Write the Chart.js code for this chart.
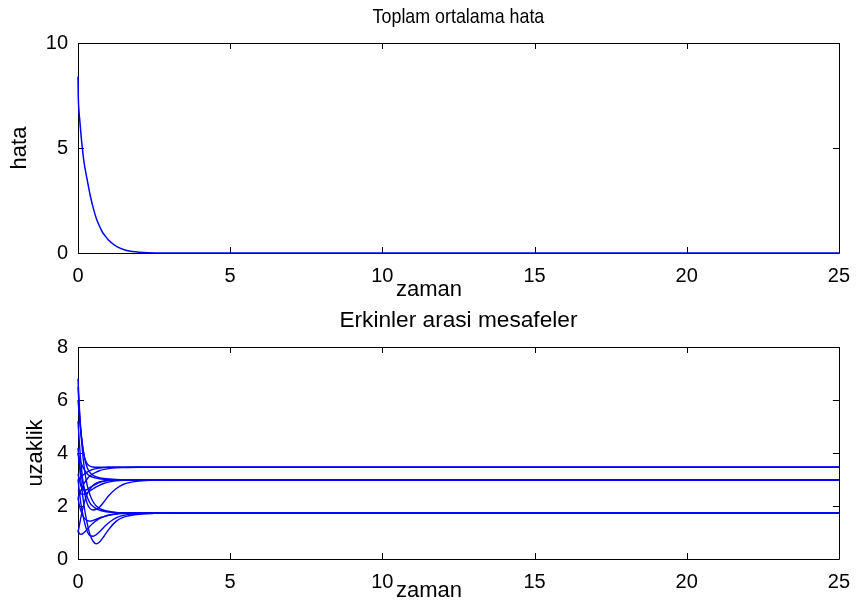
<!DOCTYPE html>
<html>
<head>
<meta charset="utf-8">
<script src="https://cdn.jsdelivr.net/npm/chart.js@4/dist/chart.umd.min.js"></script>
<style>
  body { margin: 0; background: #fff; }
  .pane { position: absolute; left: 0; width: 861px; height: 300px; }
</style>
</head>
<body>
<div class="pane" style="top:0"><canvas id="hata-chart" width="861" height="300"></canvas></div>
<div class="pane" style="top:300px"><canvas id="uzaklik-chart" width="861" height="300"></canvas></div>
<script>
// Toplam ortalama hata (total mean error) vs time
var hataTime = [0, 0.01, 0.03, 0.06, 0.1, 0.15, 0.2, 0.3, 0.4, 0.5, 0.6, 0.7, 0.8, 0.9, 1.0, 1.2, 1.4, 1.6, 1.8, 2.0, 2.3, 2.6, 3.0, 25];
var hataValues = [8.4, 7.4, 6.8, 6.3, 5.6, 4.9, 4.3, 3.5, 2.75, 2.15, 1.65, 1.3, 1.0, 0.8, 0.62, 0.38, 0.22, 0.12, 0.07, 0.04, 0.015, 0.005, 0, 0];

// Erkinler arasi mesafeler (inter-agent distances), all sampled at the same times
var mesafeTime = [0, 0.05, 0.1, 0.2, 0.3, 0.4, 0.5, 0.6, 0.7, 0.85, 1.0, 1.25, 1.5, 2.0, 2.5, 3.5, 6, 25];
var mesafeValues = [
  // settle at the short distance
  [6.8, 5.6, 4.7, 3.5, 2.8, 2.4, 2.15, 2.0, 1.92, 1.84, 1.8, 1.76, 1.75, 1.74, 1.735, 1.73, 1.73, 1.73],
  [4.2, 3.5, 2.9, 2.0, 1.35, 0.9, 0.66, 0.57, 0.63, 0.85, 1.1, 1.42, 1.58, 1.69, 1.72, 1.73, 1.73, 1.73],
  [1.1, 0.95, 0.93, 1.0, 1.12, 1.25, 1.36, 1.45, 1.52, 1.6, 1.65, 1.7, 1.72, 1.73, 1.73, 1.73, 1.73, 1.73],
  [3.0, 2.5, 2.05, 1.45, 1.05, 0.88, 0.86, 0.92, 1.02, 1.2, 1.36, 1.55, 1.65, 1.71, 1.725, 1.73, 1.73, 1.73],
  [4.0, 3.6, 3.25, 2.7, 2.35, 2.1, 1.98, 1.9, 1.85, 1.8, 1.77, 1.75, 1.74, 1.735, 1.73, 1.73, 1.73, 1.73],
  [2.3, 2.0, 1.8, 1.55, 1.45, 1.43, 1.46, 1.5, 1.55, 1.6, 1.65, 1.7, 1.72, 1.73, 1.73, 1.73, 1.73, 1.73],
  // settle at the middle distance
  [6.0, 5.3, 4.7, 3.9, 3.45, 3.25, 3.15, 3.1, 3.07, 3.04, 3.02, 3.0, 2.99, 2.99, 2.99, 2.99, 2.99, 2.99],
  [5.2, 4.3, 3.6, 2.6, 2.1, 1.9, 1.85, 1.87, 1.95, 2.15, 2.38, 2.65, 2.82, 2.94, 2.98, 2.99, 2.99, 2.99],
  [4.0, 3.8, 3.62, 3.38, 3.22, 3.13, 3.08, 3.05, 3.03, 3.01, 3.0, 2.99, 2.99, 2.99, 2.99, 2.99, 2.99, 2.99],
  [1.0, 1.3, 1.6, 2.1, 2.45, 2.65, 2.78, 2.86, 2.91, 2.95, 2.97, 2.98, 2.99, 2.99, 2.99, 2.99, 2.99, 2.99],
  [3.2, 2.95, 2.75, 2.6, 2.62, 2.7, 2.77, 2.83, 2.88, 2.93, 2.96, 2.98, 2.99, 2.99, 2.99, 2.99, 2.99, 2.99],
  [2.6, 2.5, 2.45, 2.45, 2.5, 2.58, 2.65, 2.72, 2.78, 2.85, 2.9, 2.95, 2.97, 2.98, 2.99, 2.99, 2.99, 2.99],
  // settle at the long distance
  [6.5, 5.5, 4.8, 3.9, 3.6, 3.5, 3.47, 3.46, 3.46, 3.46, 3.46, 3.46, 3.46, 3.46, 3.46, 3.46, 3.46, 3.46],
  [2.3, 2.45, 2.6, 2.85, 3.02, 3.14, 3.22, 3.28, 3.33, 3.38, 3.41, 3.44, 3.45, 3.46, 3.46, 3.46, 3.46, 3.46],
  [3.0, 3.05, 3.1, 3.2, 3.28, 3.34, 3.38, 3.41, 3.43, 3.45, 3.46, 3.46, 3.46, 3.46, 3.46, 3.46, 3.46, 3.46]
];

var xTicksStep = 5;
var FONT = "'Liberation Sans', Arial, sans-serif";

function toPoints(times, values) {
    return times.map(function (t, i) { return { x: t, y: values[i] }; });
}

// box + inward ticks on all four sides (under the lines), titles on top
var boxPlugin = {
    id: 'matlabBox',
    beforeDatasetsDraw: function (chart) {
        var ctx = chart.ctx, a = chart.chartArea;
        var xs = chart.scales.x, ys = chart.scales.y;
        var len = 6;
        ctx.save();
        ctx.strokeStyle = '#000';
        ctx.lineWidth = 1;
        ctx.beginPath();
        ctx.rect(Math.round(a.left) + 0.5, Math.round(a.top) + 0.5, Math.round(a.right - a.left), Math.round(a.bottom - a.top));
        xs.ticks.forEach(function (t) {
            var px = Math.round(xs.getPixelForValue(t.value)) + 0.5;
            ctx.moveTo(px, a.bottom); ctx.lineTo(px, a.bottom - len);
            ctx.moveTo(px, a.top); ctx.lineTo(px, a.top + len);
        });
        ys.ticks.forEach(function (t) {
            var py = Math.round(ys.getPixelForValue(t.value)) + 0.5;
            ctx.moveTo(a.left, py); ctx.lineTo(a.left + len, py);
            ctx.moveTo(a.right, py); ctx.lineTo(a.right - len, py);
        });
        ctx.stroke();
        ctx.restore();
    },
    afterDraw: function (chart, args, opts) {
        var ctx = chart.ctx, a = chart.chartArea;
        var cx = (a.left + a.right) / 2;
        ctx.save();
        ctx.fillStyle = '#000';
        ctx.textAlign = 'center';
        ctx.textBaseline = 'middle';

        ctx.save();
        ctx.font = opts.titleSize + 'px ' + FONT;
        ctx.translate(cx, opts.titleY);
        ctx.scale(opts.titleScaleX, 1);
        ctx.fillText(opts.title, 0, 0);
        ctx.restore();

        ctx.font = '22px ' + FONT;
        ctx.fillText(opts.xTitle, opts.xTitleX, opts.xTitleY);
        ctx.translate(opts.yTitleX, (a.top + a.bottom) / 2);
        ctx.rotate(-Math.PI / 2);
        ctx.fillText(opts.yTitle, 0, 0);
        ctx.restore();
    }
};

function makeChart(id, datasets, yMax, yStep, areaTop, xHeight, labels) {
    return new Chart(document.getElementById(id).getContext('2d'), {
        type: 'line',
        data: { datasets: datasets },
        plugins: [boxPlugin],
        options: {
            responsive: false,
            animation: false,
            layout: { padding: { left: 0, right: 19, top: areaTop, bottom: 0 } },
            elements: { point: { radius: 0 }, line: { cubicInterpolationMode: 'monotone' } },
            plugins: {
                legend: { display: false },
                tooltip: { enabled: false },
                title: { display: false },
                matlabBox: labels
            },
            scales: {
                x: {
                    type: 'linear', min: 0, max: 25,
                    grid: { display: false, drawTicks: false },
                    border: { display: false },
                    ticks: { stepSize: xTicksStep, color: '#000', padding: 11, maxRotation: 0,
                             font: { family: FONT, size: 20 } },
                    afterFit: function (s) { s.height = xHeight; }
                },
                y: {
                    min: 0, max: yMax,
                    grid: { display: false, drawTicks: false },
                    border: { display: false },
                    ticks: { stepSize: yStep, color: '#000', padding: 10,
                             font: { family: FONT, size: 20 } },
                    afterFit: function (s) { s.width = 78; }
                }
            }
        }
    });
}

var hataSets = [{
    data: toPoints(hataTime, hataValues),
    borderColor: '#0000ff', borderWidth: 1.5, clip: false
}];

var mesafeSets = mesafeValues.map(function (vals) {
    return { data: toPoints(mesafeTime, vals), borderColor: '#0000ff', borderWidth: 1.4, clip: false };
});

makeChart('hata-chart', hataSets, 10, 5, 43, 47, {
    title: 'Toplam ortalama hata', titleSize: 21, titleScaleX: 0.85, titleY: 17,
    xTitle: 'zaman', xTitleX: 429, xTitleY: 290, yTitle: 'hata', yTitleX: 20
});

makeChart('uzaklik-chart', mesafeSets, 8, 2, 47, 41, {
    title: 'Erkinler arasi mesafeler', titleSize: 22, titleScaleX: 1.03, titleY: 21,
    xTitle: 'zaman', xTitleX: 429, xTitleY: 291, yTitle: 'uzaklik', yTitleX: 36
});
</script>
</body>
</html>
